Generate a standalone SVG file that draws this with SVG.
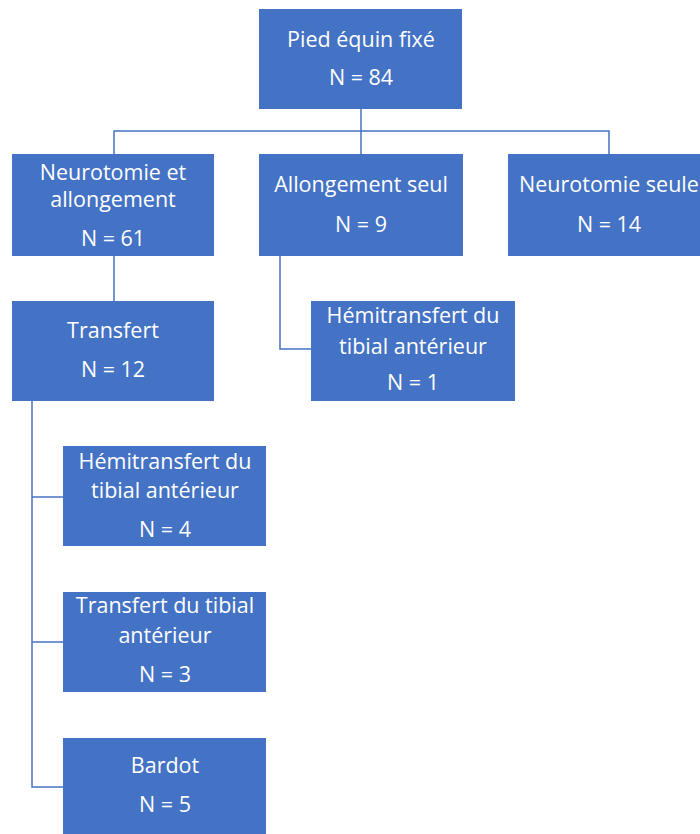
<svg xmlns="http://www.w3.org/2000/svg" width="700" height="834" viewBox="0 0 700 834">
  <style>
    .box { fill: #4472C4; }
    .t { font-family: "Open Sans", "Liberation Sans", sans-serif; font-size: 21.5px; fill: #FFFFFF; text-anchor: middle; }
    .c { fill: none; stroke: #4472C4; stroke-width: 1.5; }
  </style>
  <rect width="700" height="834" fill="#FFFFFF"/>
  <g id="connectors">
    <path class="c" d="M361 109 V154"/>
    <path class="c" d="M114 154 V131 H609 V154"/>
    <path class="c" d="M114 256 V301"/>
    <path class="c" d="M280 256 V349 H311"/>
    <path class="c" d="M32 401 V787 H63"/>
    <path class="c" d="M32 497 H63"/>
    <path class="c" d="M32 642 H63"/>
  </g>
  <g id="n-root">
    <rect class="box" x="259" y="9" width="203" height="100"/>
    <text class="t" x="361" y="47">Pied équin fixé</text>
    <text class="t" x="361" y="85">N = 84</text>
  </g>
  <g id="n-neuro-allong">
    <rect class="box" x="12" y="154" width="202" height="102"/>
    <text class="t" x="113" y="180">Neurotomie et</text>
    <text class="t" x="113" y="207">allongement</text>
    <text class="t" x="113" y="246">N = 61</text>
  </g>
  <g id="n-allong">
    <rect class="box" x="259" y="154" width="204" height="102"/>
    <text class="t" x="361" y="192">Allongement seul</text>
    <text class="t" x="361" y="232">N = 9</text>
  </g>
  <g id="n-neuro">
    <rect class="box" x="508" y="154" width="202" height="102"/>
    <text class="t" x="609" y="192">Neurotomie seule</text>
    <text class="t" x="609" y="232">N = 14</text>
  </g>
  <g id="n-transfert">
    <rect class="box" x="12" y="301" width="202" height="100"/>
    <text class="t" x="113" y="338">Transfert</text>
    <text class="t" x="113" y="377">N = 12</text>
  </g>
  <g id="n-hemi1">
    <rect class="box" x="311" y="301" width="204" height="100"/>
    <text class="t" x="413" y="323">Hémitransfert du</text>
    <text class="t" x="413" y="354">tibial antérieur</text>
    <text class="t" x="413" y="390">N = 1</text>
  </g>
  <g id="n-hemi4">
    <rect class="box" x="63" y="446" width="203" height="100"/>
    <text class="t" x="165" y="469">Hémitransfert du</text>
    <text class="t" x="165" y="498">tibial antérieur</text>
    <text class="t" x="165" y="537">N = 4</text>
  </g>
  <g id="n-transfert-ta">
    <rect class="box" x="63" y="592" width="203" height="100"/>
    <text class="t" x="165" y="613">Transfert du tibial</text>
    <text class="t" x="165" y="643">antérieur</text>
    <text class="t" x="165" y="682">N = 3</text>
  </g>
  <g id="n-bardot">
    <rect class="box" x="63" y="738" width="203" height="100"/>
    <text class="t" x="165" y="773">Bardot</text>
    <text class="t" x="165" y="812">N = 5</text>
  </g>
</svg>
